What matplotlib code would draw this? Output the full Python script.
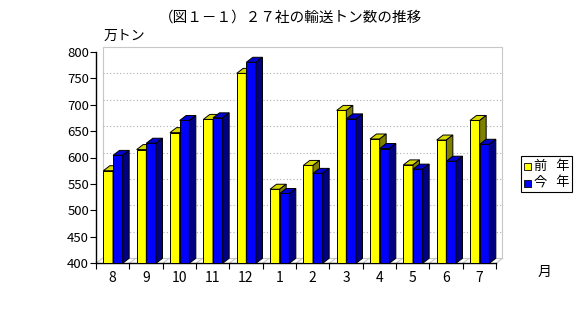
import matplotlib
matplotlib.use("Agg")
import matplotlib.pyplot as plt
from matplotlib.patches import Polygon, Rectangle

plt.rcParams['font.family'] = ['Noto Sans CJK JP', 'DejaVu Sans']

## DATA
months = ['8', '9', '10', '11', '12', '1', '2', '3', '4', '5', '6', '7']
prev_year = [575, 615, 647, 672, 759, 540, 585, 689, 635, 586, 633, 670]
this_year = [604, 627, 670, 675, 780, 532, 570, 673, 617, 578, 593, 625]
series_names = ['前   年', '今   年']
title = '（図１－１）２７社の輸送トン数の推移'
unit_label = '万トン'
xlabel = '月'

W, H = 580, 317
fig = plt.figure(figsize=(W / 100, H / 100), dpi=100)


def fx(px):
    return px / W


def fy(py):
    return 1 - py / H


# front plane of the plot, in pixels
x0, x1 = 96, 496
ytop, ybot = 51.7, 263.3
ax = fig.add_axes([fx(x0), fy(ybot), fx(x1) - fx(x0), fy(ytop) - fy(ybot)])
ax.set_xlim(0, 12)
ax.set_ylim(400, 800)
ax.patch.set_visible(False)
for s in ['top', 'right']:
    ax.spines[s].set_visible(False)
ax.spines['left'].set_linewidth(1.0)
ax.spines['bottom'].set_linewidth(1.0)

# depth of the 3d effect in data units
dx = 6.5 / (400 / 12)
dy = 5.0 / (211.6 / 400)

# back wall
grey = '#c8c8c8'
ax.plot([dx, dx, 12 + dx, 12 + dx], [400 + dy, 800 + dy, 800 + dy, 400 + dy],
        color=grey, lw=0.8, clip_on=False, zorder=1)
ax.plot([dx, 12 + dx], [400 + dy, 400 + dy], color=grey, lw=0.8, clip_on=False, zorder=1)
for v in range(450, 800, 50):
    ax.plot([dx, 12 + dx], [v + dy, v + dy], color='#b0b0b0', lw=0.8, ls=(0, (1, 2)),
            clip_on=False, zorder=1)
for k in range(13):
    ax.plot([k, k + dx], [400, 400 + dy], color=grey, lw=0.8, clip_on=False, zorder=1)


def bar3d(left, width, value, front, top, side):
    kw = dict(closed=True, ec='black', lw=0.7, clip_on=False, zorder=3)
    r = left + width
    ax.add_patch(Polygon([(left, 400), (r, 400), (r, value), (left, value)], fc=front, **kw))
    ax.add_patch(Polygon([(left, value), (r, value), (r + dx, value + dy),
                          (left + dx, value + dy)], fc=top, **kw))
    ax.add_patch(Polygon([(r, 400), (r + dx, 400 + dy), (r + dx, value + dy),
                          (r, value)], fc=side, **kw))


bw = 0.29
for i in range(len(months)):
    bar3d(i + 0.22, bw, prev_year[i], '#ffff00', '#d8d800', '#808000')
    bar3d(i + 0.22 + bw, bw, this_year[i], '#0000ff', '#0000d0', '#000080')

# ticks
ax.set_yticks(range(400, 801, 50))
ax.tick_params(axis='y', direction='out', length=4, width=0.8, labelsize=9.5, pad=1)
ax.set_xticks(range(13))
ax.set_xticklabels([])
ax.tick_params(axis='x', direction='out', length=4, width=0.8)
for i, m in enumerate(months):
    ax.text(i + 0.5, 400 - 15 / 0.529, m, ha='center', va='center', fontsize=10)

# texts
fig.text(fx(291), fy(18), title, ha='center', va='center', fontsize=10.5)
fig.text(fx(104), fy(36), unit_label, ha='left', va='center', fontsize=10)
fig.text(fx(545), fy(272), xlabel, ha='center', va='center', fontsize=10)

# legend
fig.add_artist(Rectangle((fx(521), fy(192)), fx(572) - fx(521), fy(156) - fy(192),
                         transform=fig.transFigure, fc='white', ec='black', lw=0.8))
colors = ['#ffff00', '#0000ff']
for j, name in enumerate(series_names):
    yc = 166 + j * 17
    fig.add_artist(Rectangle((fx(524), fy(yc + 3.5)), fx(7), fx(7) * W / H,
                             transform=fig.transFigure, fc=colors[j], ec='black', lw=0.6))
    fig.text(fx(534), fy(yc), name, ha='left', va='center', fontsize=9.5)

fig.savefig('out.png', dpi=100)
